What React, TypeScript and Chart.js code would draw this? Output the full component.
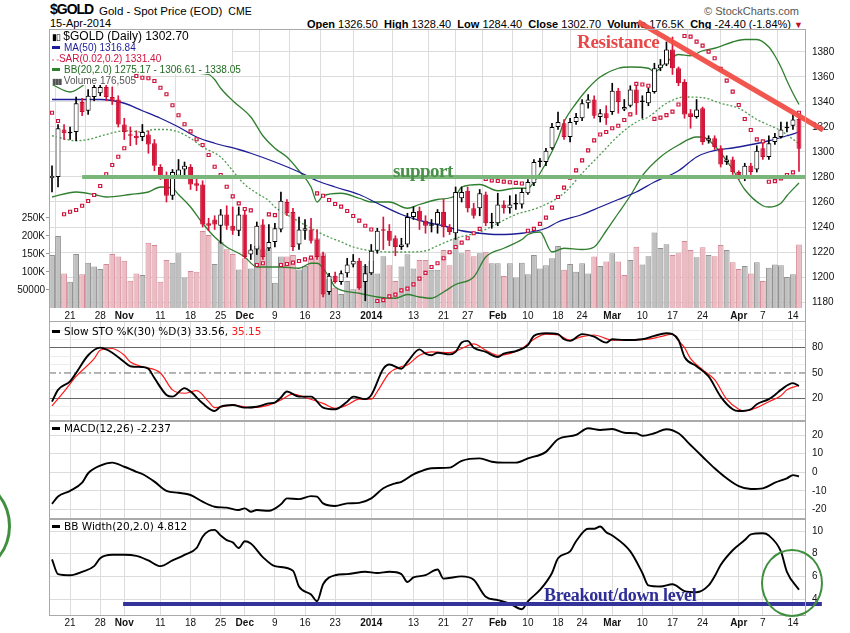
import React, { useEffect, useRef } from "react";
import { Chart, registerables } from "chart.js";

Chart.register(...registerables);

// ---------- DATA (trading-day index 0 = 16-Oct-2013 ... 124 = 15-Apr-2014) ----------
const OPEN = [
  1279, 1280, 1318, 1315, 1316, 1340, 1333, 1344, 1347, 1352,
  1344, 1342, 1322, 1314, 1313, 1312, 1314, 1307, 1288, 1280,
  1265, 1281, 1286, 1288, 1275, 1274, 1243, 1246, 1241, 1250,
  1241, 1237, 1250, 1218, 1222, 1242, 1223, 1228, 1238, 1260,
  1252, 1226, 1237, 1238, 1230, 1217, 1188, 1201, 1196, 1203,
  1210, 1213, 1196, 1203, 1221, 1238, 1237, 1231, 1224, 1226,
  1248, 1253, 1245, 1241, 1242, 1252, 1240, 1235, 1263, 1269,
  1255, 1255, 1266, 1243, 1243, 1258, 1255, 1258, 1258, 1267,
  1275, 1292, 1292, 1303, 1320, 1323, 1312, 1324, 1327, 1339,
  1342, 1328, 1331, 1332, 1349, 1334, 1337, 1350, 1340, 1339,
  1348, 1367, 1370, 1382, 1367, 1356, 1331, 1328, 1335, 1309,
  1311, 1303, 1292, 1294, 1284, 1279, 1289, 1286, 1303, 1296,
  1308, 1312, 1319, 1321, 1326.5,
];
const HIGH = [
  1289, 1322, 1322, 1320, 1344, 1343, 1350, 1354, 1356, 1356,
  1352, 1345, 1327, 1320, 1317, 1322, 1317, 1310, 1290, 1284,
  1286, 1294, 1292, 1290, 1280, 1277, 1247, 1249, 1254, 1257,
  1256, 1256, 1253, 1226, 1244, 1246, 1242, 1243, 1268, 1262,
  1255, 1248, 1246, 1247, 1238, 1220, 1203, 1204, 1205, 1215,
  1218, 1215, 1210, 1226, 1239, 1248, 1242, 1233, 1231, 1251,
  1256, 1256, 1249, 1246, 1254, 1262, 1242, 1272, 1272, 1272,
  1259, 1270, 1268, 1251, 1267, 1261, 1265, 1266, 1271, 1278,
  1294, 1295, 1303, 1323, 1332, 1326, 1327, 1331, 1342, 1346,
  1345, 1334, 1337, 1355, 1351, 1342, 1353, 1354, 1345, 1351,
  1371, 1374, 1388, 1392, 1368, 1358, 1334, 1342, 1336, 1313,
  1313, 1305, 1297, 1296, 1285, 1291, 1291, 1305, 1307, 1313,
  1315, 1324, 1324, 1330, 1328.4,
];
const LOW = [
  1268, 1272, 1310, 1310, 1309, 1329, 1330, 1341, 1345, 1341,
  1338, 1320, 1310, 1305, 1306, 1309, 1299, 1285, 1278, 1260,
  1262, 1279, 1280, 1270, 1269, 1240, 1237, 1238, 1227, 1238,
  1234, 1233, 1215, 1214, 1218, 1214, 1221, 1224, 1236, 1249,
  1221, 1222, 1230, 1227, 1214, 1184, 1186, 1195, 1194, 1200,
  1208, 1190, 1181, 1202, 1219, 1222, 1225, 1217, 1222, 1224,
  1246, 1238, 1235, 1236, 1235, 1232, 1234, 1230, 1260, 1252,
  1247, 1249, 1241, 1239, 1241, 1251, 1251, 1254, 1255, 1266,
  1273, 1288, 1289, 1302, 1318, 1310, 1308, 1322, 1325, 1335,
  1327, 1324, 1322, 1330, 1331, 1333, 1336, 1330, 1327, 1337,
  1347, 1365, 1369, 1362, 1353, 1327, 1319, 1327, 1306, 1307,
  1302, 1288, 1290, 1282, 1278, 1277, 1282, 1284, 1294, 1294,
  1306, 1311, 1316, 1318, 1284.4,
];
const CLOSE = [
  1281, 1319, 1315, 1316, 1339, 1332, 1345, 1352, 1352, 1344,
  1341, 1322, 1316, 1313, 1311, 1316, 1306, 1289, 1281, 1265,
  1284, 1286, 1289, 1274, 1273, 1242, 1241, 1242, 1250, 1241,
  1237, 1250, 1216, 1222, 1241, 1216, 1228, 1239, 1261, 1251,
  1224, 1238, 1239, 1229, 1216, 1186, 1201, 1196, 1203, 1210,
  1213, 1191, 1203, 1221, 1237, 1237, 1229, 1224, 1226, 1248,
  1252, 1245, 1241, 1242, 1252, 1240, 1236, 1268, 1268, 1255,
  1249, 1267, 1243, 1243.5, 1258, 1255, 1258, 1259.5, 1268, 1276,
  1292, 1293, 1301, 1320, 1324, 1312, 1324, 1328, 1339, 1342,
  1329, 1331, 1327, 1349, 1340, 1336, 1350, 1339, 1340.5, 1348,
  1367, 1370, 1382, 1367, 1355, 1330, 1328, 1334, 1308, 1311,
  1304, 1290, 1294, 1284, 1280, 1289, 1284, 1301, 1296, 1307,
  1312, 1318, 1320, 1326, 1302.7,
];
// volume in thousands
const VOLUME_K = [
  147, 200, 96, 73, 150, 94, 126, 115, 108, 122,
  150, 143, 131, 76, 96, 92, 181, 175, 73, 133,
  126, 152, 85, 103, 101, 214, 203, 122, 184, 163,
  150, 107, 138, 110, 172, 163, 167, 70, 143, 143,
  147, 107, 117, 140, 194, 152, 81, 56, 39, 75,
  52, 131, 117, 131, 96, 144, 119, 75, 115, 149,
  110, 133, 133, 106, 106, 161, 119, 194, 152, 161,
  144, 152, 156, 124, 124, 89, 124, 85, 126, 94,
  147, 110, 119, 138, 172, 106, 122, 101, 124, 96,
  143, 117, 129, 152, 129, 92, 133, 170, 121, 144,
  210, 167, 177, 147, 152, 186, 161, 141, 169, 147,
  144, 175, 161, 127, 108, 117, 96, 127, 75, 112,
  121, 119, 86, 94, 176.5,
];
const SAR = [
  1331.4, 1324.8, 1250.2, 1252.2, 1253.6, 1257, 1260.8, 1265.6, 1272.8, 1282.2,
  1289.6, 1296.2, 1303, 1361, 1360.8, 1359.4, 1359, 1356.8, 1351.4, 1346.2,
  1337.4, 1329.4, 1322.2, 1316.5, 1310.2, 1305.6, 1297.6, 1288.2, 1281.6, 1272.2,
  1264.5, 1258.9, 1254.4, 1253.3, 1209.6, 1211, 1250.1, 1249.5, 1209.6, 1210.4,
  1211.5, 1212.8, 1214.1, 1215.5, 1266.9, 1265, 1261.6, 1258.4, 1256.3, 1252.8,
  1248.8, 1245.1, 1241, 1238, 1180.8, 1181.5, 1184.5, 1185.9, 1189.3, 1190.7,
  1194.1, 1198.7, 1203.3, 1208, 1211, 1215, 1219.8, 1224, 1227.5, 1231,
  1235, 1238.5, 1278.4, 1277.3, 1276.8, 1276.3, 1275.8, 1275.3, 1274.8, 1237,
  1238.5, 1242.5, 1247.5, 1255.5, 1264, 1271.5, 1279.5, 1285.3, 1293.3, 1301.3,
  1309.3, 1314, 1316, 1319, 1321, 1325.6, 1330.1, 1354.5, 1354, 1353,
  1326.5, 1327.5, 1329.5, 1332.3, 1338, 1392.8, 1392.3, 1388.3, 1385.1, 1380.3,
  1375, 1366.5, 1357.1, 1348.3, 1337.6, 1326.4, 1317.6, 1310.1, 1308.5, 1276.2,
  1276.7, 1278.9, 1281.6, 1283.7, 1331.4,
];
// [day index, value]
const MA50 = [
  [0, 1342], [4, 1342], [8, 1342], [12, 1339], [15, 1333], [18, 1327], [21, 1320], [24, 1312],
  [27, 1307], [31, 1302], [33, 1299], [37, 1292], [41, 1284], [44, 1277], [47, 1272], [51, 1266],
  [54, 1259], [58, 1250], [62, 1244], [65, 1241], [68, 1237], [71, 1235], [74, 1234], [78, 1235],
  [82, 1239], [84, 1244], [88, 1250], [91, 1256], [94, 1262], [97, 1268], [100, 1276], [104, 1285],
  [107, 1296], [109, 1300], [114, 1304], [119, 1309], [122, 1313], [124, 1316],
];
const BB_UPPER = [
  [0, 1354], [3, 1348], [6, 1356], [9, 1363], [12, 1367], [15, 1368], [18, 1366], [21, 1364],
  [24, 1363], [26, 1362], [27, 1358], [28, 1351], [30, 1341], [33, 1328], [35, 1313], [37, 1303],
  [39, 1296], [41, 1285], [43, 1272], [44, 1260], [45, 1265], [48, 1267], [51, 1263], [53, 1260],
  [56, 1260], [59, 1255], [61, 1258], [64, 1262], [67, 1265], [68, 1272], [71, 1274], [74, 1269],
  [77, 1271], [79, 1271], [80, 1276], [82, 1291], [84, 1311], [85, 1324], [87, 1339], [89, 1351],
  [91, 1360], [94, 1367], [96, 1368], [99, 1367], [100, 1364], [102, 1372], [104, 1378], [106, 1377],
  [108, 1381], [110, 1383], [113, 1388], [115, 1390], [117, 1390], [119, 1384], [120, 1377],
  [121, 1368], [122, 1357], [123, 1347], [124, 1338],
];
const BB_MID = [
  [0, 1313], [4, 1309], [6, 1310], [9, 1314], [12, 1317], [15, 1316], [17, 1318], [19, 1318],
  [21, 1316], [23, 1311], [25, 1304], [28, 1296], [30, 1285], [31, 1279], [32, 1274], [34, 1267],
  [36, 1261], [37, 1256], [40, 1247], [43, 1239], [45, 1234], [48, 1228], [50, 1224], [53, 1221],
  [56, 1220], [59, 1220], [62, 1221], [64, 1225], [67, 1231], [71, 1236], [74, 1243], [77, 1250],
  [81, 1256], [85, 1267], [88, 1283], [91, 1298], [94, 1313], [97, 1324], [99, 1328], [102, 1339],
  [105, 1344], [108, 1343.5], [111, 1339], [114, 1335], [117, 1326], [121, 1317], [124, 1306.6],
];
const BB_LOWER = [
  [0, 1264], [4, 1268], [7, 1266], [9, 1264], [13, 1266], [16, 1268], [18, 1272], [20, 1271],
  [21, 1266], [23, 1256], [25, 1243], [27, 1232], [29, 1224], [31, 1219], [32, 1216], [34, 1208],
  [38, 1208], [41, 1207], [43, 1211], [44, 1211], [46, 1200], [47, 1192], [51, 1187], [54, 1184],
  [57, 1183], [59, 1186], [61, 1184], [63, 1183], [65, 1188], [67, 1194], [70, 1200], [72, 1216],
  [75, 1223], [78, 1230], [79, 1234], [81, 1236], [83, 1220], [85, 1223], [88, 1222], [90, 1224],
  [92, 1237], [94, 1251], [96, 1265], [98, 1281], [101, 1296], [104, 1305.6], [107, 1312], [108, 1312],
  [110, 1305], [113, 1286], [115, 1270], [118, 1257], [119, 1256], [121, 1259], [122, 1265], [124, 1275.2],
];
const STO_K = [
  [0, 16], [1, 30], [3, 40], [4, 50], [6, 71], [8, 80], [9, 78], [10, 74], [12, 63], [13, 58],
  [15, 57], [16, 55], [17, 44], [19, 24], [20, 22], [22, 32], [23, 28], [25, 14], [27, 5], [28, 10],
  [30, 12], [32, 9], [34, 10], [36, 14], [37, 15], [38, 21], [39, 28], [41, 22], [43, 22], [45, 9],
  [47, 7], [49, 16], [50, 22], [52, 19], [53, 24], [55, 55], [56, 60], [58, 55], [59, 63], [61, 78],
  [62, 73], [63, 71], [64, 74], [66, 72], [67, 75], [68, 86], [69, 88], [70, 80], [72, 75], [74, 69],
  [75, 73], [77, 76], [79, 83], [80, 94], [82, 97], [84, 96], [85, 90], [86, 88], [88, 96], [90, 93],
  [92, 86], [93, 90], [95, 89], [98, 90], [100, 94], [102, 97], [104, 89], [105, 69], [107, 58],
  [109, 46], [111, 22], [113, 7], [114, 5], [116, 7], [117, 13], [119, 19], [120, 24], [121, 30],
  [123, 38], [124, 34.6],
];
const STO_D = [
  [0, 11], [2, 28], [4, 46], [7, 67], [8, 77], [10, 79], [12, 71], [13, 63], [15, 57.5], [18, 50],
  [20, 30], [22, 26], [24, 29], [26, 16], [27, 9], [30, 12], [33, 9], [36, 12], [38, 18], [40, 25],
  [42, 21], [45, 14], [47, 8], [49, 12], [51, 19], [53, 19], [54, 28], [56, 50], [58, 57.5], [59, 59.5],
  [61, 71], [63, 75], [66, 74], [68, 79], [70, 84.5], [72, 77], [74, 71], [76, 73], [78, 79], [80, 90],
  [82, 96], [84, 95], [86, 89], [88, 93], [90, 95], [93, 89], [95, 89], [99, 90], [101, 93], [103, 96],
  [104, 88], [105, 80], [106, 67], [108, 54], [110, 42], [112, 19], [114, 7], [115, 5], [117, 9],
  [119, 16], [121, 23], [122, 30], [124, 35.15],
];
const MACD = [
  [0, -17], [1, -13], [3, -10], [5, -5.6], [6, -0.5], [8, 3.6], [10, 5.2], [12, 3], [14, 0.3],
  [15, -0.9], [17, -5], [19, -10], [21, -11], [23, -12.2], [25, -15.8], [27, -18.5], [29, -19],
  [31, -20.3], [32, -19.4], [33, -21.2], [34, -20.3], [36, -20.7], [38, -17.2], [39, -14], [41, -14.4],
  [43, -12.8], [44, -13.1], [45, -16.7], [47, -18.1], [49, -16.7], [51, -16.4], [53, -14], [55, -8.6],
  [57, -5.9], [58, -5.1], [60, -1.1], [61, 0.3], [63, 2.2], [66, 2.5], [68, 6.2], [71, 7.5], [73, 5.7],
  [75, 5.2], [77, 5.2], [79, 7.5], [82, 11], [84, 17.8], [87, 20.1], [89, 23.7], [91, 22.8], [93, 23.3],
  [95, 21.3], [97, 21], [98, 19.7], [100, 21], [102, 23.2], [104, 21], [106, 14.7], [108, 8.4],
  [110, 2.2], [112, -3.2], [114, -7.4], [116, -9], [118, -8.6], [120, -5.6], [122, -3.2], [123, -1.5],
  [124, -2.237],
];
const BB_WIDTH = [
  [0, 7.5], [1, 6.2], [3, 6.1], [5, 6.4], [7, 6.9], [8, 7.6], [10, 7.9], [12, 7.9], [14, 7.8],
  [16, 7.4], [18, 6.9], [20, 7.4], [22, 7.9], [24, 8.5], [25, 9.5], [26, 10.0], [27, 10.1], [28, 9.6],
  [29, 9.2], [30, 9.0], [31, 8.5], [32, 9.1], [33, 8.9], [35, 7.7], [37, 6.9], [40, 6.5], [41, 5.1],
  [43, 4.4], [44, 3.8], [45, 5.3], [47, 6.1], [49, 6.2], [52, 6.4], [54, 6.3], [56, 6.4], [58, 6.2],
  [59, 5.5], [60, 5.9], [62, 6.1], [64, 6.6], [65, 5.8], [68, 6.0], [70, 5.7], [72, 4.2], [74, 3.9],
  [76, 3.6], [78, 3.1], [79, 3.8], [81, 4.8], [83, 6.3], [84, 7.6], [86, 8.2], [87, 9.1], [89, 10.2],
  [90, 10.2], [91, 10.4], [92, 9.9], [93, 9.6], [96, 8.2], [98, 6.3], [99, 5.2], [101, 5.1], [103, 5.3],
  [105, 4.7], [107, 4.6], [109, 5.2], [110, 6.0], [111, 7.0], [113, 8.3], [115, 9.2], [116, 9.7],
  [118, 9.8], [119, 9.6], [121, 8.2], [122, 6.4], [124, 4.812],
];

// axis ticks
const TICK_DAYS = [3, 8, 12, 18, 23, 28, 32, 37, 42, 47, 53, 60, 65, 69, 74, 79, 84, 88, 93, 98, 103, 108, 114, 118, 123];
const TICK_TEXT = ["21", "28", "Nov", "11", "18", "25", "Dec", "9", "16", "23", "2014", "13", "21", "27", "Feb", "10", "18", "24", "Mar", "10", "17", "24", "Apr", "7", "14"];
const TICK_BOLD = ["Nov", "Dec", "2014", "Feb", "Mar", "Apr"];
const PRICE_TICKS = [1180, 1200, 1220, 1240, 1260, 1280, 1300, 1320, 1340, 1360, 1380];
const VOLUME_TICKS = [50000, 100000, 150000, 200000, 250000];
const VOLUME_TICK_TEXT = ["50000", "100K", "150K", "200K", "250K"];
const STO_GRID = [0, 10, 20, 30, 40, 50, 60, 70, 80, 90, 100];
const STO_LABELS = [20, 50, 80];
const MACD_TICKS = [-20, -10, 0, 10, 20];
const BBW_TICKS = [4, 6, 8, 10];

// annotations (data units)
const SUPPORT_LEVEL = 1280;
const SUPPORT_DAYS = [5, 125];
const RESISTANCE = [[97.3, 1404.2], [128, 1317.6]];
const BREAKOUT_LEVEL = 3.56;
const BREAKOUT_DAYS = [11.8, 127.8];

// ---------- styling ----------
const SANS = "'Liberation Sans', Arial, sans-serif";
const VERD = "'DejaVu Sans', Verdana, sans-serif";
const SERIF = "'Liberation Serif', 'Times New Roman', serif";
const GRID = "#dcdcdc";
const UP_EDGE = "#000000";
const DOWN = "#dc143c";
const DOWN_EDGE = "#c0102e";
const PAD = 20; // spare room around each sub-panel so auto padding never shrinks the plot

const pts = (a: number[][]) => a.map(([x, y]) => ({ x, y }));
const tickText = (v: number) => {
  const i = TICK_DAYS.indexOf(v);
  return i >= 0 ? TICK_TEXT[i] : "";
};

function xAxis(show: boolean) {
  return {
    type: "linear",
    min: -0.5,
    max: 125,
    offset: false,
    afterBuildTicks: (s: any) => {
      s.ticks = TICK_DAYS.map((v) => ({ value: v }));
    },
    afterFit: (s: any) => {
      s.height = show ? 14 : 0;
    },
    grid: { color: GRID, lineWidth: 1, drawTicks: false },
    border: { display: false },
    ticks: {
      display: show,
      autoSkip: false,
      maxRotation: 0,
      minRotation: 0,
      padding: 2,
      color: "#111",
      font: (c: any) => ({
        family: SANS,
        size: 10,
        weight: c && c.tick && TICK_BOLD.includes(tickText(c.tick.value)) ? "bold" : "normal",
      }),
      callback: (v: any) => tickText(Number(v)),
    },
  };
}

function rightAxis(min: number, max: number, ticks: number[], labels: number[] | null, gridColor: any) {
  return {
    type: "linear",
    position: "right",
    min,
    max,
    afterBuildTicks: (s: any) => {
      s.ticks = ticks.map((v) => ({ value: v }));
    },
    afterFit: (s: any) => {
      s.width = 45;
    },
    grid: { color: gridColor, lineWidth: 1, drawTicks: false },
    border: { display: false },
    ticks: {
      autoSkip: false,
      padding: 7,
      color: "#111",
      font: { family: SANS, size: 10 },
      callback: (v: any) => (labels === null || labels.includes(Number(v)) ? String(v) : ""),
    },
  };
}

const baseOptions = (padding: any, scales: any) => ({
  responsive: false,
  animation: false,
  events: [],
  layout: { padding, autoPadding: false },
  plugins: { legend: { display: false }, tooltip: { enabled: false } },
  scales,
});

function mainConfig(): any {
  const idx = OPEN.map((_, i) => i);
  const up = idx.map((i) => CLOSE[i] >= OPEN[i]);
  const volUp = idx.map((i) => i === 0 || CLOSE[i] >= CLOSE[i - 1]);
  return {
    type: "bar",
    data: {
      datasets: [
        {
          type: "line",
          order: 0,
          data: pts(RESISTANCE),
          borderColor: "rgba(240,78,68,0.95)",
          borderWidth: 5,
          pointRadius: 0,
          clip: false,
        },
        {
          type: "line",
          order: 1,
          data: SUPPORT_DAYS.map((x) => ({ x, y: SUPPORT_LEVEL })),
          borderColor: "#7ab57a",
          borderWidth: 4,
          pointRadius: 0,
        },
        {
          type: "line",
          order: 2,
          data: SAR.map((y, x) => ({ x, y })),
          showLine: false,
          pointStyle: "rect",
          pointRadius: 2.1,
          pointBorderWidth: 1.2,
          pointBorderColor: "#d0123c",
          pointBackgroundColor: "#ffffff",
        },
        {
          type: "bar",
          order: 3,
          grouped: false,
          data: idx.map((i) => ({ x: i, y: [OPEN[i], CLOSE[i]] })),
          backgroundColor: up.map((u) => (u ? "#ffffff" : DOWN)),
          borderColor: up.map((u) => (u ? UP_EDGE : DOWN_EDGE)),
          borderWidth: 1,
          borderSkipped: false,
          minBarLength: 1.5,
          barPercentage: 0.82,
          categoryPercentage: 1,
        },
        {
          type: "bar",
          order: 4,
          grouped: false,
          data: idx.map((i) => ({ x: i, y: [LOW[i], HIGH[i]] })),
          backgroundColor: up.map((u) => (u ? UP_EDGE : DOWN)),
          borderWidth: 0,
          barThickness: 1,
        },
        {
          type: "line",
          order: 5,
          data: pts(MA50),
          borderColor: "#1d1d95",
          borderWidth: 1.3,
          pointRadius: 0,
          cubicInterpolationMode: "monotone",
        },
        {
          type: "line",
          order: 6,
          data: pts(BB_UPPER),
          borderColor: "#2f7f2f",
          borderWidth: 1.3,
          pointRadius: 0,
          cubicInterpolationMode: "monotone",
        },
        {
          type: "line",
          order: 6,
          data: pts(BB_MID),
          borderColor: "#4f9a4f",
          borderWidth: 1.3,
          borderDash: [2, 2],
          pointRadius: 0,
          cubicInterpolationMode: "monotone",
        },
        {
          type: "line",
          order: 6,
          data: pts(BB_LOWER),
          borderColor: "#2f7f2f",
          borderWidth: 1.3,
          pointRadius: 0,
          cubicInterpolationMode: "monotone",
        },
        {
          type: "bar",
          order: 9,
          yAxisID: "yv",
          grouped: false,
          data: idx.map((i) => ({ x: i, y: VOLUME_K[i] * 1000 })),
          backgroundColor: volUp.map((u) => (u ? "#c0c0c0" : "#ebbcc3")),
          borderColor: volUp.map((u) => (u ? "#919191" : "#d48996")),
          borderWidth: 1,
          barPercentage: 1,
          categoryPercentage: 0.96,
        },
      ],
    },
    options: baseOptions(
      { top: 30, left: 0, right: 0, bottom: PAD },
      {
        x: xAxis(true),
        y: rightAxis(1175.2, 1397.6, PRICE_TICKS, null, GRID),
        yv: {
          type: "linear",
          position: "left",
          min: 0,
          max: 772200,
          afterBuildTicks: (s: any) => {
            s.ticks = VOLUME_TICKS.map((v) => ({ value: v }));
          },
          afterFit: (s: any) => {
            s.width = 49;
          },
          grid: { drawOnChartArea: false, drawTicks: true, tickLength: 3, tickColor: "#999" },
          border: { display: false },
          ticks: {
            autoSkip: false,
            padding: 1,
            color: "#111",
            font: { family: SANS, size: 10 },
            callback: (v: any) => VOLUME_TICK_TEXT[VOLUME_TICKS.indexOf(Number(v))] || "",
          },
        },
      }
    ),
  };
}

function stoConfig(): any {
  return {
    type: "line",
    data: {
      datasets: [
        { data: pts(STO_K), borderColor: "#000", borderWidth: 1.9, pointRadius: 0, cubicInterpolationMode: "monotone", order: 0 },
        { data: pts(STO_D), borderColor: "#ff1a1a", borderWidth: 1.2, pointRadius: 0, cubicInterpolationMode: "monotone", order: 1 },
        {
          data: [{ x: -0.5, y: 50 }, { x: 125, y: 50 }],
          borderColor: "#6a6a6a",
          borderWidth: 1,
          borderDash: [7, 3, 2, 3],
          pointRadius: 0,
          order: 2,
        },
      ],
    },
    options: baseOptions(
      { left: 49, top: PAD, right: 0, bottom: PAD },
      {
        x: xAxis(false),
        y: rightAxis(-6.9, 110.4, STO_GRID, STO_LABELS, (c: any) => {
          const v = c && c.tick ? c.tick.value : 0;
          if (v === 20 || v === 80) return "#666666";
          if (v === 50) return "rgba(0,0,0,0)";
          return "#ececec";
        }),
      }
    ),
  };
}

function macdConfig(): any {
  return {
    type: "line",
    data: {
      datasets: [
        { data: pts(MACD), borderColor: "#000", borderWidth: 1.9, pointRadius: 0, cubicInterpolationMode: "monotone" },
      ],
    },
    options: baseOptions(
      { left: 49, top: PAD, right: 0, bottom: PAD },
      { x: xAxis(false), y: rightAxis(-25.1, 27.6, MACD_TICKS, null, GRID) }
    ),
  };
}

function bbwConfig(): any {
  return {
    type: "line",
    data: {
      datasets: [
        {
          data: BREAKOUT_DAYS.map((x) => ({ x, y: BREAKOUT_LEVEL })),
          borderColor: "#333399",
          borderWidth: 4,
          pointRadius: 0,
          clip: false,
          order: 0,
        },
        { data: pts(BB_WIDTH), borderColor: "#000", borderWidth: 1.9, pointRadius: 0, cubicInterpolationMode: "monotone", order: 1 },
      ],
    },
    options: baseOptions(
      { left: 49, top: PAD, right: 0, bottom: PAD },
      { x: xAxis(true), y: rightAxis(2.59, 11.06, BBW_TICKS, null, GRID) }
    ),
  };
}

// ---------- component ----------
const abs = (o: any): any => ({ position: "absolute", ...o });

function Dash({ color }: { color: string }) {
  return (
    <span
      style={{ display: "inline-block", width: 8, height: 3, background: color, verticalAlign: "middle", marginRight: 4, marginBottom: 2 }}
    />
  );
}

export default function App() {
  const mainRef = useRef<HTMLCanvasElement>(null);
  const stoRef = useRef<HTMLCanvasElement>(null);
  const macdRef = useRef<HTMLCanvasElement>(null);
  const bbwRef = useRef<HTMLCanvasElement>(null);

  useEffect(() => {
    const charts = [
      new Chart(mainRef.current as HTMLCanvasElement, mainConfig()),
      new Chart(stoRef.current as HTMLCanvasElement, stoConfig()),
      new Chart(macdRef.current as HTMLCanvasElement, macdConfig()),
      new Chart(bbwRef.current as HTMLCanvasElement, bbwConfig()),
    ];
    return () => charts.forEach((c) => c.destroy());
  }, []);

  // canvas placement: plot area of each panel lands on the reference's panel box
  const cv = (top: number, h: number) => abs({ left: 0, top, width: 850, height: h, zIndex: 1 });
  const frame = (top: number, h: number) =>
    abs({ left: 49, top, width: 757, height: h, border: "1px solid #a9a9a9", boxSizing: "border-box", zIndex: 2 });

  return (
    <div style={abs({ left: 0, top: 0, width: 850, height: 633, background: "#fff", overflow: "hidden", fontFamily: SANS, color: "#000" })}>
      {/* header */}
      <div style={abs({ left: 50, top: 1, fontSize: 14, fontWeight: "bold", lineHeight: "17px", letterSpacing: -1 })}>$GOLD</div>
      <div style={abs({ left: 99, top: 5, fontSize: 11.5, lineHeight: "13px" })}>
        Gold - Spot Price (EOD)<span style={{ fontSize: 10.5, marginLeft: 6 }}>CME</span>
      </div>
      <div style={abs({ left: 50, top: 17, fontSize: 11, lineHeight: "13px" })}>15-Apr-2014</div>
      <div style={abs({ right: 51, top: 5, fontSize: 11, lineHeight: "13px", color: "#555" })}>© StockCharts.com</div>
      <div style={abs({ right: 47, top: 18, fontSize: 11, lineHeight: "13px", whiteSpace: "pre" })}>
        <b>Open</b> 1326.50  <b>High</b> 1328.40  <b>Low</b> 1284.40  <b>Close</b> 1302.70  <b>Volume</b> 176.5K  <b>Chg</b> -24.40 (-1.84%) <span style={{ color: "#c0102e", fontSize: 9 }}>▼</span>
      </div>

      {/* charts */}
      <canvas ref={mainRef} width={850} height={322 + PAD} style={cv(0, 322 + PAD)} />
      <canvas ref={stoRef} width={850} height={99 + 2 * PAD} style={cv(322 - PAD, 99 + 2 * PAD)} />
      <canvas ref={macdRef} width={850} height={98 + 2 * PAD} style={cv(421 - PAD, 98 + 2 * PAD)} />
      <canvas ref={bbwRef} width={850} height={110 + 2 * PAD} style={cv(519 - PAD, 110 + 2 * PAD)} />

      {/* panel frames */}
      <div style={frame(29, 293)} />
      <div style={frame(321, 101)} />
      <div style={frame(420, 100)} />
      <div style={frame(518, 98)} />

      {/* main legend (white boxes hide lines beneath, as in the original) */}
      <div style={abs({ left: 50, top: 30, width: 182, height: 44, background: "#fff", zIndex: 3 })} />
      <div style={abs({ left: 50, top: 74, width: 84, height: 11, background: "#fff", zIndex: 3 })} />
      <div style={abs({ left: 52, top: 30, fontSize: 12, lineHeight: "12px", zIndex: 4, whiteSpace: "pre" })}>
        <span style={{ fontSize: 9, letterSpacing: -1 }}>▮▯</span> $GOLD (Daily) 1302.70
      </div>
      <div style={abs({ left: 52, top: 42, fontSize: 10, lineHeight: "11px", zIndex: 4, color: "#1d1d95", whiteSpace: "pre" })}>
        <Dash color="#1d1d95" />MA(50) 1316.84
      </div>
      <div style={abs({ left: 52, top: 53, fontSize: 10, lineHeight: "11px", zIndex: 4, color: "#d0123c", whiteSpace: "pre" })}>
        <span style={{ fontSize: 7 }}>▫ ▫</span>SAR(0.02,0.2) 1331.40
      </div>
      <div style={abs({ left: 52, top: 64, fontSize: 10, lineHeight: "11px", zIndex: 4, color: "#1f6b1f", whiteSpace: "pre" })}>
        <Dash color="#2f7f2f" />BB(20,2.0) 1275.17 - 1306.61 - 1338.05
      </div>
      <div style={abs({ left: 52, top: 75, fontSize: 10, lineHeight: "11px", zIndex: 4, color: "#555", whiteSpace: "pre" })}>
        <span style={{ fontSize: 8, letterSpacing: -1 }}>▮▮▮</span> Volume 176,505
      </div>

      {/* sub-panel legends */}
      <div style={abs({ left: 52, top: 325, fontFamily: VERD, fontSize: 10.5, lineHeight: "12px", zIndex: 4, whiteSpace: "pre" })}>
        <Dash color="#000" />Slow STO %K(30) %D(3) 33.56, <span style={{ color: "#ff1a1a" }}>35.15</span>
      </div>
      <div style={abs({ left: 52, top: 422, fontFamily: VERD, fontSize: 10.5, lineHeight: "12px", zIndex: 4, whiteSpace: "pre" })}>
        <Dash color="#000" />MACD(12,26) -2.237
      </div>
      <div style={abs({ left: 52, top: 520, fontFamily: VERD, fontSize: 10.5, lineHeight: "12px", zIndex: 4, whiteSpace: "pre" })}>
        <Dash color="#000" />BB Width(20,2.0) 4.812
      </div>

      {/* annotations */}
      <div style={abs({ left: 577, top: 32, fontFamily: SERIF, fontWeight: "bold", fontSize: 19, lineHeight: "19px", color: "#e84848", letterSpacing: -0.3, zIndex: 5 })}>
        Resistance
      </div>
      <div style={abs({ left: 393, top: 161, fontFamily: SERIF, fontWeight: "bold", fontSize: 19, lineHeight: "19px", color: "#4a8f4a", letterSpacing: -0.5, zIndex: 5 })}>
        support
      </div>
      <div style={abs({ left: 544, top: 586, fontFamily: SERIF, fontWeight: "bold", fontSize: 18, lineHeight: "18px", color: "#2e2e96", letterSpacing: -0.3, zIndex: 5 })}>
        Breakout/down level
      </div>
      <div style={abs({ left: -61, top: 482, width: 72, height: 88, borderRadius: "50%", border: "3px solid #3f8f3f", boxSizing: "border-box", zIndex: 5 })} />
      <div style={abs({ left: 761, top: 549, width: 62, height: 68, borderRadius: "50%", border: "2.5px solid #3f8f3f", boxSizing: "border-box", zIndex: 5 })} />
    </div>
  );
}
